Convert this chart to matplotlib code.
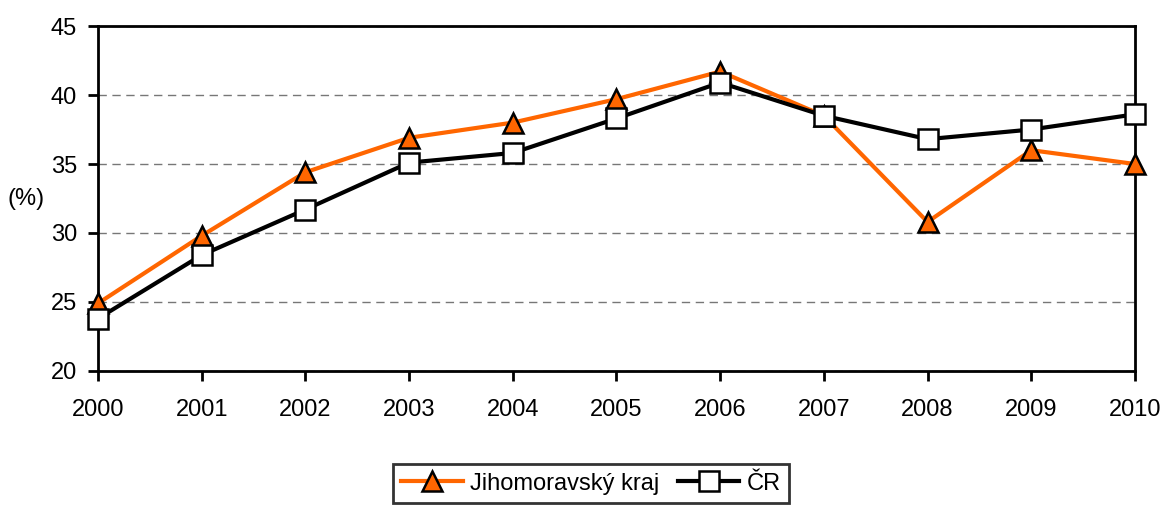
import matplotlib.pyplot as plt
import numpy as np

plt.rcParams['font.family'] = ['Liberation Sans', 'DejaVu Sans']

years = [2000, 2001, 2002, 2003, 2004, 2005, 2006, 2007, 2008, 2009, 2010]
jmk = [24.9, 29.8, 34.4, 36.9, 38.0, 39.7, 41.7, 38.5, 30.8, 36.0, 35.0]
cr = [23.8, 28.4, 31.7, 35.1, 35.8, 38.3, 40.9, 38.5, 36.8, 37.5, 38.6]

fig = plt.figure(figsize=(11.65, 5.08), dpi=100)
ax = fig.add_axes([0.0841, 0.2697, 0.8901, 0.6791])

ax.plot(years, jmk, color='#ff6600', lw=3, marker='^', ms=15,
        mfc='#ff6600', mec='black', mew=1.8, label='Jihomoravský kraj', zorder=3)
ax.plot(years, cr, color='black', lw=3, marker='s', ms=15,
        mfc='white', mec='black', mew=1.8, label='ČR', zorder=4)

ax.set_xlim(2000, 2010)
ax.set_ylim(20, 45)
ax.set_xticks(years)
ax.set_yticks([20, 25, 30, 35, 40, 45])
ax.tick_params(labelsize=17, length=7, width=2, direction='out')
ax.tick_params(axis='x', pad=13)
ax.tick_params(axis='y', pad=8)
ax.yaxis.grid(True, ls=(0, (6, 4)), color='#777777', lw=1)
ax.set_axisbelow(True)
for s in ax.spines.values():
    s.set_linewidth(2)
    s.set_clip_on(False)
for ln in ax.lines:
    ln.set_clip_on(False)

ax.set_ylabel('(%)', rotation=0, fontsize=17, labelpad=18, va='center')

leg = fig.legend(loc='upper center', bbox_to_anchor=(591 / 1165, 0.086), ncol=2,
                 fontsize=17, frameon=True, fancybox=False, edgecolor='black',
                 handlelength=2.6, columnspacing=0.8, handletextpad=0.3,
                 borderpad=0.35, borderaxespad=0)
leg.get_frame().set_linewidth(2)

fig.savefig('out.png', dpi=100)
